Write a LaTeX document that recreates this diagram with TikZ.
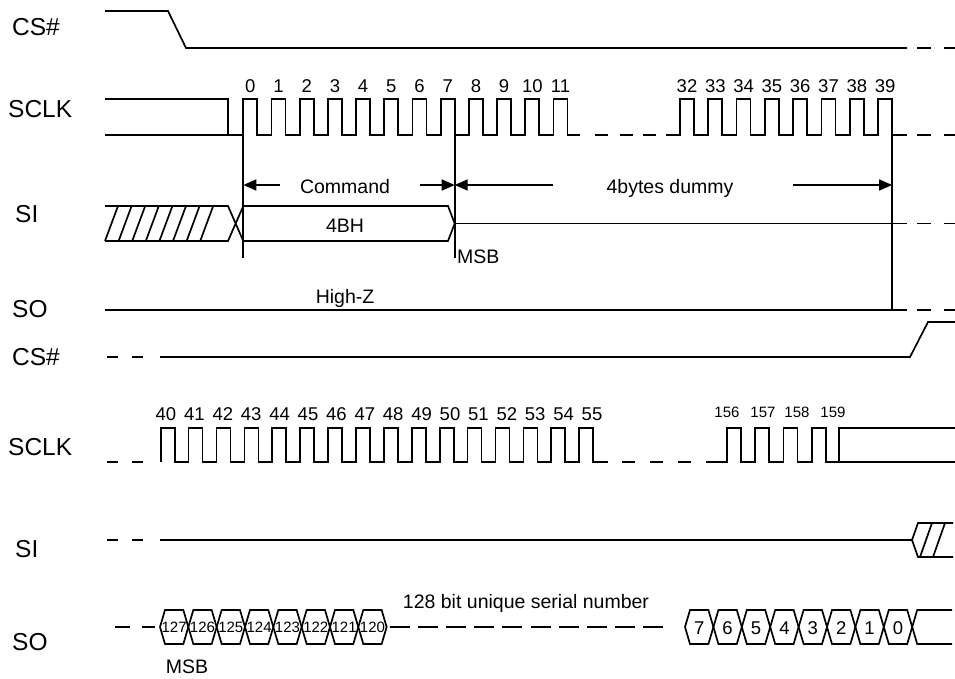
\documentclass[tikz,border=0pt]{standalone}
\usepackage{fontspec}
\setmainfont{Liberation Sans}
\usetikzlibrary{arrows.meta}

\tikzset{
  wave/.style={line width=1.7pt},
  sig/.style={anchor=base west, inner sep=0pt, font=\fontsize{24.5}{28}\selectfont},
  txt/.style={anchor=base, inner sep=0pt, font=\fontsize{19.5}{23}\selectfont},
  clk/.style={anchor=base, inner sep=0pt, font=\fontsize{18.5}{22}\selectfont},
  bitnum/.style={anchor=base, inner sep=0pt, font=\fontsize{15}{18}\selectfont},
  span/.style={line width=1.7pt, -{Triangle[length=13pt,width=11pt]}},
}

\begin{document}
\begin{tikzpicture}[x=1pt, y=-1pt]
  \useasboundingbox (0,0) rectangle (955,678);

  % Signal names
  \node[sig] (csA) at (12,35) {CS\#};
  \node[sig] (sclkA) at (8,117) {SCLK};
  \node[sig] (siA) at (15,222) {SI};
  \node[sig] (soA) at (12,317) {SO};
  \node[sig] (csB) at (12,365) {CS\#};
  \node[sig] (sclkB) at (8,455) {SCLK};
  \node[sig] (siB) at (15,557) {SI};
  \node[sig] (soB) at (12,650) {SO};

  % Broken ends
  \foreach \y in {48,135,223.5,310} {
    \draw[wave] (917,\y) -- (931,\y) (944,\y) -- (955,\y);
  }
  \foreach \y in {357,462,540} {
    \draw[wave] (107,\y) -- (118,\y) (132,\y) -- (143,\y);
  }
  \draw[wave] (115,627) -- (130,627) (142,627) -- (155,627);

  % CS# falls
  \draw[wave] (105,11) -- (168,11) -- (186,48) -- (907,48);

  % SCLK, clocks 0 to 11
  \draw[wave] (105,99) -- (228,99) -- (228,135);
  \draw[wave] (105,135)
    \foreach \n in {0,...,11} {
      -- ({243.3+28.2*\n},135) -- ({243.3+28.2*\n},99)
      -- ({257.3+28.2*\n},99) -- ({257.3+28.2*\n},135)
    } -- (580,135);
  \foreach \x in {595,620,643} {
    \draw[wave] (\x,135) -- (\x+13,135);
  }
  % SCLK, clocks 32 to 39
  \draw[wave] (666,135)
    \foreach \n in {0,...,7} {
      -- ({680+28.3*\n},135) -- ({680+28.3*\n},99)
      -- ({694+28.3*\n},99) -- ({694+28.3*\n},135)
    } -- (907,135);

  % Clock numbers
  \foreach \n in {0,...,11} {
    \node[clk] (cA\n) at ({250.3+28.2*\n},92) {\n};
  }
  \foreach \n in {32,...,39} {
    \node[clk] (cA\n) at ({687+28.3*(\n-32)},92) {\n};
  }

  % Timing marks
  \coordinate (cmdL) at (243.3,185);
  \coordinate (cmdR) at (454.7,185);
  \coordinate (dumR) at (892.1,185);
  \draw[wave] (243.3,99) -- (243.3,258);
  \draw[wave] (454.7,99) -- (454.7,258);
  \draw[wave] (892.1,135) -- (892.1,310);

  % Spans
  \node[txt] (cmd) at (345,193) {Command};
  \node[txt] (dummy) at (670,193) {4bytes dummy};
  \coordinate (cmdA) at (280,185);
  \coordinate (cmdB) at (420,185);
  \coordinate (dumA) at (553,185);
  \coordinate (dumB) at (793,185);
  \draw[span] (cmdA) -- (cmdL);
  \draw[span] (cmdB) -- (cmdR);
  \draw[span] (dumA) -- (cmdR);
  \draw[span] (dumB) -- (dumR);

  % SI: don't care, then command byte
  \draw[wave] (105,206) -- (228,206) -- (243.3,241) -- (448,241)
    -- (454.7,223.5) -- (448,206) -- (243.3,206) -- (228,241) -- (105,241);
  \foreach \x in {105,118.6,...,201} {
    \draw[wave] (\x,241) -- (\x+13,206);
  }
  \draw[wave] (454.7,223.5) -- (907,223.5);
  \node[txt] (opcode) at (345,232) {4BH};
  \node[txt, anchor=base west] (msbA) at (457,263) {MSB};

  % SO: high impedance
  \draw[wave] (105,310) -- (907,310);
  \node[txt] (hiz) at (345,303) {High-Z};

  % CS# rises
  \draw[wave] (160,357) -- (910,357) -- (928,322) -- (955,322);

  % SCLK, clocks 40 to 55
  \draw[wave] (160.7,462)
    \foreach \n in {0,...,15} {
      -- ({160.7+27.9*\n},462) -- ({160.7+27.9*\n},428)
      -- ({174.7+27.9*\n},428) -- ({174.7+27.9*\n},462)
    } -- (608,462);
  \foreach \x in {622,650,678,706} {
    \draw[wave] (\x,462) -- (\x+13,462);
  }
  % SCLK, clocks 156 to 159
  \draw[wave] (719,462)
    \foreach \n in {0,...,3} {
      -- ({727+28.3*\n},462) -- ({727+28.3*\n},428)
      -- ({741+28.3*\n},428) -- ({741+28.3*\n},462)
    } -- (839,462) -- (839,428) -- (955,428);
  \draw[wave] (839,462) -- (955,462);

  \foreach \n in {40,...,55} {
    \node[clk] (cB\n) at ({166+28.4*(\n-40)},420) {\n};
  }
  \foreach \n/\x in {156/727, 157/763, 158/797, 159/833} {
    \node[bitnum] (cB\n) at (\x,417) {\n};
  }

  % SI (second part)
  \draw[wave] (160,540) -- (912,540) -- (918,523) -- (953,523);
  \draw[wave] (912,540) -- (918,557) -- (953,557);
  \draw[wave] (920,557) -- (932,523) (933,557) -- (945,523);

  % SO: serial number bits 127 to 120
  \foreach \k in {0,...,7} {
    \pgfmathsetmacro\xa{160+28.33*\k}
    \pgfmathsetmacro\xb{\xa+28.33}
    \pgfmathtruncatemacro\b{127-\k}
    \draw[wave] (\xa,627) -- (\xa+5,610) -- (\xb-5,610) -- (\xb,627)
      -- (\xb-5,644) -- (\xa+5,644) -- cycle;
    \node[bitnum] (bitA\k) at ({(\xa+\xb)/2},632.5) {\b};
  }
  \foreach \k in {0,...,9} {
    \draw[wave] ({390+28.1*\k},627) -- ({410+28.1*\k},627);
  }
  \node[txt] (serial) at (526,608) {128 bit unique serial number};

  % SO: bits 7 to 0
  \foreach \k in {0,...,7} {
    \pgfmathsetmacro\xa{685+28.4*\k}
    \pgfmathsetmacro\xb{\xa+28.4}
    \pgfmathtruncatemacro\b{7-\k}
    \draw[wave] (\xa,627) -- (\xa+5,610) -- (\xb-5,610) -- (\xb,627)
      -- (\xb-5,644) -- (\xa+5,644) -- cycle;
    \node[clk] (bitB\k) at ({(\xa+\xb)/2},634.5) {\b};
  }
  \draw[wave] (912.2,627) -- (917.2,610) -- (952,610);
  \draw[wave] (912.2,627) -- (917.2,644) -- (952,644);
  \node[txt] (msbB) at (187,673) {MSB};

\end{tikzpicture}
\end{document}
